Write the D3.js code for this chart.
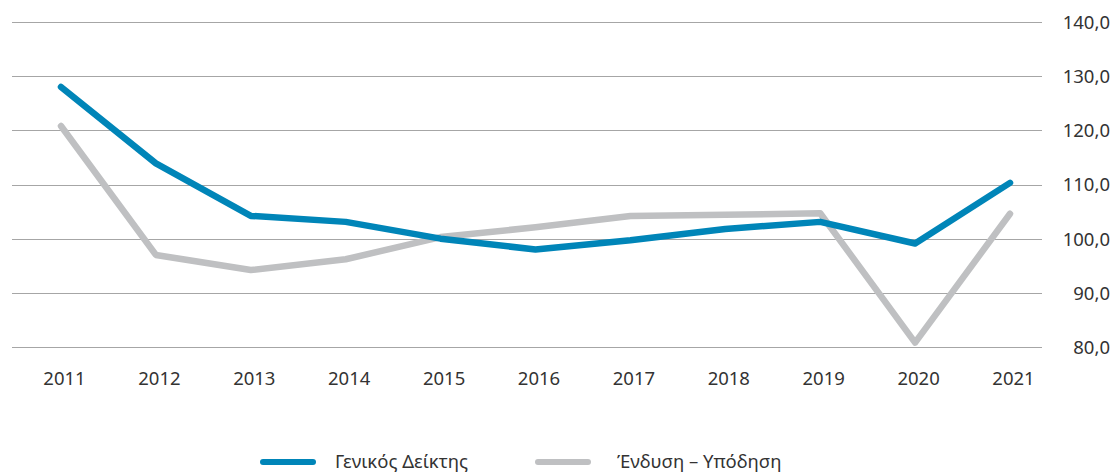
<!DOCTYPE html>
<html>
<head>
<meta charset="utf-8">
<script src="https://cdn.jsdelivr.net/npm/d3@7"></script>
<style>
  body { margin: 0; background: #fff; }
  svg text { font-family: "Noto Sans", "DejaVu Sans", sans-serif; fill: #333; }
</style>
</head>
<body>
<div id="chart"></div>
<script>
var years = ['2011', '2012', '2013', '2014', '2015', '2016', '2017', '2018', '2019', '2020', '2021'];
var general = [128.0, 113.9, 104.2, 103.1, 100.0, 98.0, 99.7, 101.8, 103.1, 99.1, 110.3];
var clothing = [120.8, 97.0, 94.2, 96.2, 100.3, 102.1, 104.2, 104.4, 104.7, 80.8, 104.6];
var yTicks = [80, 90, 100, 110, 120, 130, 140];
var seriesNames = ['Γενικός Δείκτης', 'Ένδυση – Υπόδηση'];
var seriesColors = ['#0085b8', '#bfc0c2'];

var width = 1114, height = 473;
var gridLeft = 12, gridRight = 1042;
var fontSize = '18.5px';

var svg = d3.select('#chart').append('svg')
  .attr('width', width)
  .attr('height', height);

var x = d3.scalePoint()
  .domain(years)
  .range([61, 1010]);

var y = d3.scaleLinear()
  .domain([80, 140])
  .range([347, 22]);

// gridlines
svg.append('g')
  .selectAll('line')
  .data(yTicks)
  .enter().append('line')
  .attr('x1', gridLeft)
  .attr('x2', gridRight)
  .attr('y1', function (d) { return Math.round(y(d)) + 0.5; })
  .attr('y2', function (d) { return Math.round(y(d)) + 0.5; })
  .attr('stroke', '#a6a6a6')
  .attr('stroke-width', 1);

// right axis labels
var yAxis = d3.axisRight(y)
  .tickValues(yTicks)
  .tickSize(0)
  .tickPadding(0)
  .tickFormat(function (d) { return d3.format('.1f')(d).replace('.', ','); });

var yg = svg.append('g')
  .attr('transform', 'translate(1110,0)')
  .call(yAxis);
yg.select('.domain').remove();
yg.selectAll('text')
  .attr('text-anchor', 'end')
  .attr('dy', '0.35em')
  .style('font-size', fontSize);

// bottom axis labels
var xAxis = d3.axisBottom(x).tickSize(0).tickPadding(0);
var xg = svg.append('g')
  .attr('transform', 'translate(3,379)')
  .call(xAxis);
xg.select('.domain').remove();
xg.selectAll('text')
  .attr('dy', '0.35em')
  .style('font-size', fontSize);

var line = d3.line()
  .x(function (d, i) { return x(years[i]); })
  .y(function (d) { return y(d); });

// gray first, blue on top
[clothing, general].forEach(function (vals, k) {
  svg.append('path')
    .datum(vals)
    .attr('d', line)
    .attr('fill', 'none')
    .attr('stroke', k === 0 ? seriesColors[1] : seriesColors[0])
    .attr('stroke-width', 6.5)
    .attr('stroke-linecap', 'round')
    .attr('stroke-linejoin', 'round');
});

// legend
var legendItems = [
  { name: seriesNames[0], color: seriesColors[0], x: 263, tx: 335 },
  { name: seriesNames[1], color: seriesColors[1], x: 538, tx: 617 }
];
var lg = svg.append('g');
legendItems.forEach(function (it) {
  lg.append('line')
    .attr('x1', it.x)
    .attr('x2', it.x + 50)
    .attr('y1', 462)
    .attr('y2', 462)
    .attr('stroke', it.color)
    .attr('stroke-width', 6)
    .attr('stroke-linecap', 'round');
  lg.append('text')
    .attr('x', it.tx)
    .attr('y', 462)
    .attr('dy', '0.35em')
    .style('font-size', fontSize)
    .text(it.name);
});
</script>
</body>
</html>
